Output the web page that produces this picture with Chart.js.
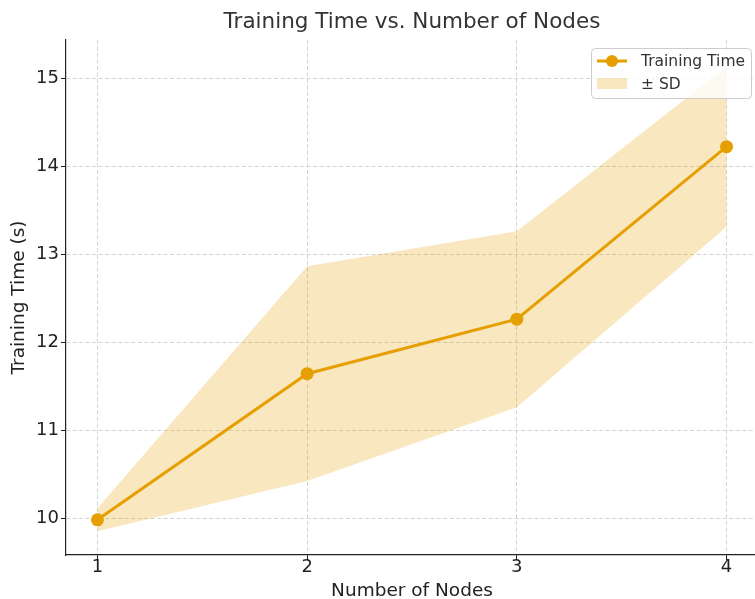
<!DOCTYPE html>
<html><head><meta charset="utf-8">
<script src="https://cdn.jsdelivr.net/npm/chart.js@4.4.1/dist/chart.umd.min.js"></script>
<style>
html,body{margin:0;padding:0;overflow:hidden;background:#fff;width:755px;height:599px}
#wrap{position:absolute;left:0;top:0;width:790px;height:605px}
</style></head><body>
<div id="wrap"><canvas id="c" width="790" height="605" style="width:790px;height:605px"></canvas></div>
<script>
const nodes = [1, 2, 3, 4];
const meanTime = [9.98, 11.64, 12.26, 14.22];
const sdTime = [0.13, 1.22, 1.00, 0.91];
const xTicks = [1, 2, 3, 4];
const yTicks = [10, 11, 12, 13, 14, 15];

const LINE = '#E69F00';
const BAND = 'rgba(230,159,0,0.25)';
const GRID = 'rgb(200,200,200)';
const FONT = '"DejaVu Sans", sans-serif';

const upper = nodes.map((n, i) => ({x: n, y: meanTime[i] + sdTime[i]}));
const lower = nodes.map((n, i) => ({x: n, y: meanTime[i] - sdTime[i]}));
const mean = nodes.map((n, i) => ({x: n, y: meanTime[i]}));

const legendPlugin = {
  id: 'customLegend',
  afterDraw(chart) {
    const ctx = chart.ctx, a = chart.chartArea;
    const x = a.right - 167, y = a.top + 8, w = 160, h = 50;
    ctx.save();
    ctx.fillStyle = 'rgba(255,255,255,0.8)';
    ctx.strokeStyle = '#cccccc';
    ctx.lineWidth = 1;
    ctx.beginPath();
    ctx.roundRect(x + 0.5, y + 0.5, w, h, 4);
    ctx.fill(); ctx.stroke();
    ctx.strokeStyle = LINE; ctx.lineWidth = 3;
    ctx.beginPath(); ctx.moveTo(x + 6, y + 13); ctx.lineTo(x + 36, y + 13); ctx.stroke();
    ctx.fillStyle = LINE;
    ctx.beginPath(); ctx.arc(x + 21, y + 13, 6, 0, 2 * Math.PI); ctx.fill();
    ctx.fillStyle = BAND;
    ctx.fillRect(x + 6, y + 30, 30, 11);
    ctx.fillStyle = '#333';
    ctx.font = '15.5px ' + FONT;
    ctx.textBaseline = 'middle';
    ctx.fillText('Training Time', x + 50, y + 14);
    ctx.fillText('\u00b1 SD', x + 50, y + 37);
    ctx.restore();
  }
};

new Chart(document.getElementById('c'), {
  type: 'line',
  data: {
    datasets: [
      {label: 'lower', data: lower, borderWidth: 0, borderColor: 'rgba(0,0,0,0)', pointRadius: 0, fill: false, order: 2},
      {label: '\u00b1 SD', data: upper, borderWidth: 0, borderColor: 'rgba(0,0,0,0)', pointRadius: 0, fill: '-1', backgroundColor: BAND, order: 1},
      {label: 'Training Time', data: mean, borderColor: LINE, backgroundColor: LINE, borderWidth: 3,
       pointRadius: 6.5, pointHoverRadius: 6.5, pointBackgroundColor: LINE, pointBorderWidth: 0, fill: false, order: 0}
    ]
  },
  options: {
    responsive: false,
    animation: false,
    layout: {padding: {left: 0, right: 32, top: 0, bottom: 0}},
    plugins: {
      legend: {display: false},
      tooltip: {enabled: false},
      title: {display: true, text: 'Training Time vs. Number of Nodes', fullSize: false,
        color: '#333', font: {family: FONT, size: 21.5, weight: 'normal', lineHeight: 1.2}, padding: {top: 10, bottom: 4.2}}
    },
    scales: {
      x: {
        type: 'linear', min: 0.85, max: 4.15,
        afterBuildTicks: s => { s.ticks = xTicks.map(v => ({value: v})); },
        afterFit: s => { s.height = 50; },
        grid: {color: GRID, lineWidth: 0.8, tickLength: 5, tickColor: '#222', tickWidth: 1},
        border: {display: true, color: '#222', width: 1.2, dash: [4, 2.5]},
        ticks: {color: '#222', font: {family: FONT, size: 18, lineHeight: 1}, padding: -2, maxRotation: 0},
        title: {display: true, text: 'Number of Nodes', color: '#222', font: {family: FONT, size: 18.5, lineHeight: 1.2}, padding: {top: 0, bottom: 2.5}}
      },
      y: {
        type: 'linear', min: 9.58, max: 15.432,
        afterBuildTicks: s => { s.ticks = yTicks.map(v => ({value: v})); },
        afterFit: s => { s.width = 66; },
        grid: {color: GRID, lineWidth: 0.8, tickLength: 5, tickColor: '#222', tickWidth: 1},
        border: {display: true, color: '#222', width: 1.2, dash: [4, 2.5]},
        ticks: {color: '#222', font: {family: FONT, size: 18}, padding: 2},
        title: {display: true, text: 'Training Time (s)', color: '#222', font: {family: FONT, size: 18.5, lineHeight: 1.2}, padding: {top: 8, bottom: 0}}
      }
    }
  },
  plugins: [legendPlugin]
});
</script>
</body></html>
